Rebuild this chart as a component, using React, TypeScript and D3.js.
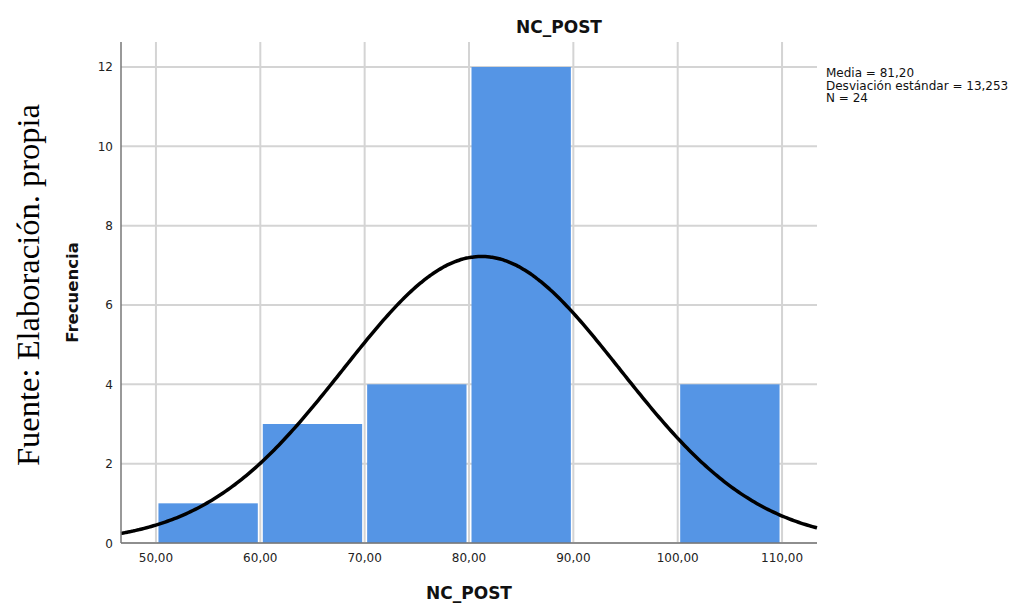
import * as d3 from "d3";

const binStarts = [50, 60, 70, 80, 90, 100];
const binWidth = 10;
const counts = [1, 3, 4, 12, 0, 4];
const xTicks = [50, 60, 70, 80, 90, 100, 110];
const yTicks = [0, 2, 4, 6, 8, 10, 12];
const mean = 81.2;
const stdDev = 13.253;
const n = 24;
const statsLines = ["Media = 81,20", "Desviación estándar = 13,253", "N = 24"];

const W = 1022;
const H = 603;
const margin = { top: 42, left: 121, right: 205, bottom: 60 };

export default function App() {
  const innerW = W - margin.left - margin.right;
  const innerH = H - margin.top - margin.bottom;
  const x = d3.scaleLinear().domain([46.65, 113.35]).range([margin.left, margin.left + innerW]);
  const y = d3.scaleLinear().domain([0, 12.63]).range([margin.top + innerH, margin.top]);

  const fmt = (v: number) => v.toFixed(2).replace(".", ",");

  const density = (v: number) =>
    (n * binWidth) / (stdDev * Math.sqrt(2 * Math.PI)) *
    Math.exp(-((v - mean) ** 2) / (2 * stdDev * stdDev));
  const curveXs = d3.range(0, 301).map((i) => 46.65 + (i / 300) * (113.35 - 46.65));
  const line = d3
    .line<number>()
    .x((d) => x(d))
    .y((d) => y(density(d)))
    .curve(d3.curveBasis);

  const sans = "'DejaVu Sans', Verdana, sans-serif";
  const bottom = margin.top + innerH;
  const right = margin.left + innerW;

  return (
    <svg width={W} height={H} style={{ position: "absolute", left: 0, top: 0, background: "#fff" }}>
      {/* grid */}
      {xTicks.map((t) => (
        <line key={"gx" + t} x1={x(t)} x2={x(t)} y1={margin.top} y2={bottom} stroke="#d4d4d4" strokeWidth={2} />
      ))}
      {yTicks.map((t) => (
        <line key={"gy" + t} x1={margin.left} x2={right} y1={y(t)} y2={y(t)} stroke="#d4d4d4" strokeWidth={2} />
      ))}
      {/* bars */}
      {binStarts.map((b, i) =>
        counts[i] > 0 ? (
          <rect
            key={"b" + b}
            x={x(b) + 2.5}
            y={y(counts[i])}
            width={x(b + binWidth) - x(b) - 5}
            height={bottom - y(counts[i])}
            fill="#5595e5"
          />
        ) : null
      )}
      {/* normal curve */}
      <path d={line(curveXs) || ""} fill="none" stroke="#000" strokeWidth={3.5} />
      {/* axes */}
      <line x1={margin.left} x2={margin.left} y1={margin.top} y2={bottom} stroke="#777" strokeWidth={1.5} />
      <line x1={margin.left} x2={right} y1={bottom} y2={bottom} stroke="#777" strokeWidth={1.5} />
      {yTicks.map((t) => (
        <text key={"ty" + t} x={margin.left - 8} y={y(t) + 4.5} textAnchor="end" fontFamily={sans} fontSize={12} fill="#222">
          {t}
        </text>
      ))}
      {xTicks.map((t) => (
        <text key={"tx" + t} x={x(t)} y={bottom + 19} textAnchor="middle" fontFamily={sans} fontSize={12} fill="#222">
          {fmt(t)}
        </text>
      ))}
      {/* titles */}
      <text x={559} y={33} textAnchor="middle" fontFamily={sans} fontWeight="bold" fontSize={17} fill="#111">
        NC_POST
      </text>
      <text x={(margin.left + right) / 2} y={599} textAnchor="middle" fontFamily={sans} fontWeight="bold" fontSize={17} fill="#111">
        NC_POST
      </text>
      <text
        transform={`translate(78, ${(margin.top + bottom) / 2}) rotate(-90)`}
        textAnchor="middle"
        fontFamily={sans}
        fontWeight="bold"
        fontSize={16.5}
        fill="#111"
      >
        Frecuencia
      </text>
      {statsLines.map((s, i) => (
        <text key={"s" + i} x={826} y={77 + i * 12.5} fontFamily={sans} fontSize={12} fill="#111">
          {s}
        </text>
      ))}
      <text
        transform={`translate(39, 285) rotate(-90)`}
        textAnchor="middle"
        fontFamily="'Liberation Serif', 'Times New Roman', serif"
        fontSize={32.5}
        fill="#000"
      >
        Fuente: Elaboración. propia
      </text>
    </svg>
  );
}
